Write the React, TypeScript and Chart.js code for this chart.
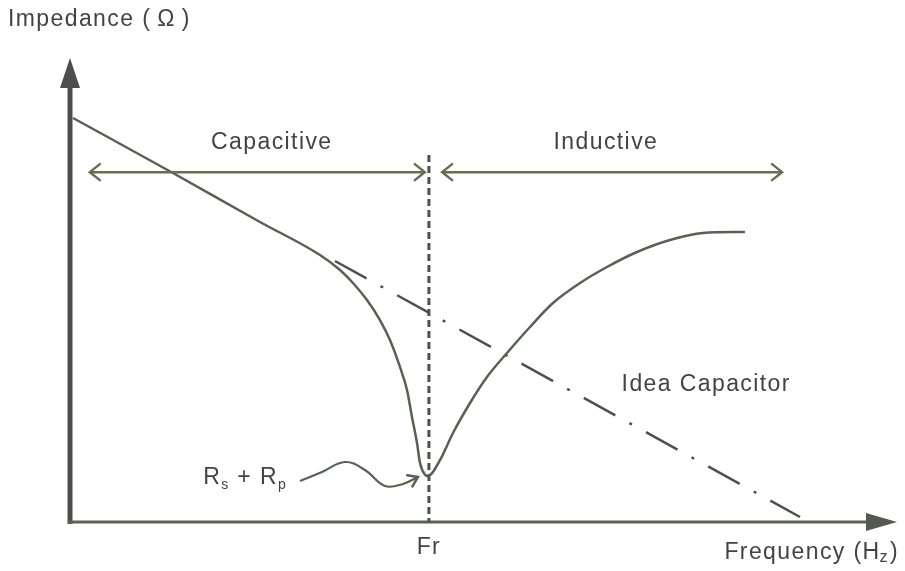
import { useEffect, useRef } from "react";
import { Chart, registerables } from "chart.js";

Chart.register(...registerables);

// ---- data (abstract units: frequency 0..100, impedance 0..100) ----
const frequency = [0.36, 12.45, 22.97, 30.23, 32.65, 34.22, 35.91, 37.48, 38.69, 39.9, 40.75, 41.35, 41.96, 42.32, 42.93, 43.29, 44.74, 46.31, 48.37, 50.42, 52.84, 55.62, 58.4, 61.67, 64.93, 68.56, 72.55, 76.54, 81.62];
const impedance = [87.07, 75.22, 64.66, 57.54, 54.31, 51.51, 47.84, 43.53, 39.22, 33.41, 28.45, 22.63, 17.03, 12.72, 10.2, 9.91, 13.36, 19.18, 25.65, 31.25, 36.42, 42.03, 47.2, 51.51, 54.96, 58.19, 60.78, 62.28, 62.5];

const idealFreq = [32.04, 88.27];
const idealImp = [56.25, 1.08];

const pointerFreq = [27.81, 30.47, 33.25, 35.67, 38.09, 40.27, 42.08];
const pointerImp = [8.84, 10.78, 12.93, 11.21, 7.76, 8.19, 9.7];

const resonanceFreq = 43.4;
const resonanceTop = 79.1;
const capacitiveSpan = [2.4, 42.9];
const inductiveSpan = [45.0, 86.1];
const spanLevel = 75.4;

const labels = {
  capacitive: "Capacitive",
  inductive: "Inductive",
  ideal: "Idea Capacitor",
  fr: "Fr",
};
const capacitiveLabelAt = [24.4, 81.7];
const inductiveLabelAt = [64.8, 81.7];
const idealLabelAt = [66.7, 29.5];
const rsrpLabelAt = [16.1, 9.5];

const LINE = "#596152";
const ARROW = "#66704f";
const TEXT = "#434343";
const AXIS = "#4d4d4d";
const FONT = "'Liberation Sans', Arial, sans-serif";
const FS = 23;

function toPts(xs: number[], ys: number[]) {
  return xs.map((x, i) => ({ x, y: ys[i] }));
}

const decor = {
  id: "decor",
  beforeDatasetsDraw(chart: any) {
    const { ctx } = chart;
    const xs = chart.scales.x;
    const ys = chart.scales.y;
    const x0 = xs.getPixelForValue(0);
    const y0 = ys.getPixelForValue(0);
    const xTop = xs.getPixelForValue(100);
    const yTop = ys.getPixelForValue(100);
    ctx.save();
    // y axis
    ctx.strokeStyle = AXIS;
    ctx.fillStyle = AXIS;
    ctx.lineWidth = 5;
    ctx.beginPath();
    ctx.moveTo(x0, y0 + 2);
    ctx.lineTo(x0, yTop + 20);
    ctx.stroke();
    ctx.beginPath();
    ctx.moveTo(x0, yTop);
    ctx.lineTo(x0 - 10, yTop + 30);
    ctx.lineTo(x0 + 10, yTop + 30);
    ctx.closePath();
    ctx.fill();
    // x axis
    ctx.strokeStyle = "#5b6350";
    ctx.lineWidth = 3;
    ctx.beginPath();
    ctx.moveTo(x0 - 2, y0);
    ctx.lineTo(xTop - 20, y0);
    ctx.stroke();
    ctx.fillStyle = "#555a50";
    ctx.beginPath();
    ctx.moveTo(xTop, y0);
    ctx.lineTo(xTop - 31, y0 - 9);
    ctx.lineTo(xTop - 31, y0 + 9);
    ctx.closePath();
    ctx.fill();
    // resonance dashed line
    const fx = xs.getPixelForValue(resonanceFreq);
    ctx.strokeStyle = "#505050";
    ctx.lineWidth = 3;
    ctx.setLineDash([7, 4]);
    ctx.beginPath();
    ctx.moveTo(fx, ys.getPixelForValue(resonanceTop));
    ctx.lineTo(fx, y0);
    ctx.stroke();
    ctx.setLineDash([]);
    ctx.restore();
  },
  afterDatasetsDraw(chart: any) {
    const { ctx } = chart;
    const xs = chart.scales.x;
    const ys = chart.scales.y;
    const px = (v: number) => xs.getPixelForValue(v);
    const py = (v: number) => ys.getPixelForValue(v);
    ctx.save();
    // span arrows
    const span = (a: number, b: number) => {
      const y = py(spanLevel);
      const xa = px(a);
      const xb = px(b);
      ctx.strokeStyle = ARROW;
      ctx.lineWidth = 2.5;
      ctx.lineCap = "round";
      ctx.beginPath();
      ctx.moveTo(xa, y);
      ctx.lineTo(xb, y);
      ctx.moveTo(xa + 10, y - 8);
      ctx.lineTo(xa, y);
      ctx.lineTo(xa + 10, y + 8);
      ctx.moveTo(xb - 10, y - 8);
      ctx.lineTo(xb, y);
      ctx.lineTo(xb - 10, y + 8);
      ctx.stroke();
    };
    span(capacitiveSpan[0], capacitiveSpan[1]);
    span(inductiveSpan[0], inductiveSpan[1]);
    // pointer arrowhead
    const n = pointerFreq.length;
    const tx = px(pointerFreq[n - 1]);
    const ty = py(pointerImp[n - 1]);
    const ang = Math.atan2(ty - py(pointerImp[n - 2]), tx - px(pointerFreq[n - 2]));
    ctx.strokeStyle = LINE;
    ctx.lineWidth = 2.5;
    ctx.lineCap = "round";
    ctx.beginPath();
    ctx.moveTo(tx - 11 * Math.cos(ang - 0.6), ty - 11 * Math.sin(ang - 0.6));
    ctx.lineTo(tx, ty);
    ctx.lineTo(tx - 11 * Math.cos(ang + 0.6), ty - 11 * Math.sin(ang + 0.6));
    ctx.stroke();

    // text
    ctx.fillStyle = TEXT;
    ctx.textBaseline = "middle";
    (ctx as any).letterSpacing = "1.4px";
    ctx.font = `${FS}px ${FONT}`;
    // Impedance (Ω)
    ctx.textAlign = "left";
    let ix = 8;
    const piece = (t: string, gap: number) => {
      ctx.fillText(t, ix, 20);
      ix += ctx.measureText(t).width + gap;
    };
    piece("Impedance (", 6);
    piece("Ω", 6);
    piece(")", 0);
    ctx.textAlign = "center";
    ctx.fillText(labels.capacitive, px(capacitiveLabelAt[0]), py(capacitiveLabelAt[1]));
    ctx.fillText(labels.inductive, px(inductiveLabelAt[0]), py(inductiveLabelAt[1]));
    ctx.fillText(labels.fr, px(resonanceFreq), py(0) + 26);
    ctx.textAlign = "left";
    ctx.fillText(labels.ideal, px(idealLabelAt[0]), py(idealLabelAt[1]));
    // Frequency (Hz) with subscript z
    const fy = py(0) + 31;
    const partA = "Frequency (H";
    const wA = ctx.measureText(partA).width;
    ctx.font = `16px ${FONT}`;
    const wZ = ctx.measureText("z").width;
    ctx.font = `${FS}px ${FONT}`;
    const wC = ctx.measureText(")").width;
    const startF = chart.width - 6 - (wA + wZ + wC);
    ctx.fillText(partA, startF, fy);
    ctx.font = `16px ${FONT}`;
    ctx.fillText("z", startF + wA - 1, fy + 5);
    ctx.font = `${FS}px ${FONT}`;
    ctx.fillText(")", startF + wA + wZ, fy);
    // Rs + Rp
    let rx = px(rsrpLabelAt[0]);
    const ry = py(rsrpLabelAt[1]);
    const seg = (t: string, size: number, dy: number) => {
      ctx.font = `${size}px ${FONT}`;
      ctx.fillText(t, rx, ry + dy);
      rx += ctx.measureText(t).width;
    };
    seg("R", FS, 0);
    seg("s", 14, 7);
    seg(" + R", FS, 0);
    seg("p", 14, 7);
    ctx.restore();
  },
};

export default function App() {
  const ref = useRef<HTMLCanvasElement | null>(null);
  useEffect(() => {
    if (!ref.current) return;
    const chart = new Chart(ref.current, {
      type: "line",
      data: {
        datasets: [
          {
            label: "Impedance",
            data: toPts(frequency, impedance),
            borderColor: LINE,
            borderWidth: 2.5,
            pointRadius: 0,
            cubicInterpolationMode: "monotone",
            fill: false,
            clip: false as any,
          },
          {
            label: "Idea Capacitor",
            data: toPts(idealFreq, idealImp),
            borderColor: "#4f4f4f",
            borderWidth: 2.5,
            borderDash: [36, 16, 3, 16],
            pointRadius: 0,
            fill: false,
            clip: false as any,
          },
          {
            label: "Rs + Rp",
            data: toPts(pointerFreq, pointerImp),
            borderColor: LINE,
            borderWidth: 2.2,
            pointRadius: 0,
            tension: 0.4,
            fill: false,
            clip: false as any,
          },
        ],
      },
      options: {
        animation: false,
        responsive: false,
        layout: { padding: { left: 70, top: 58, right: 8, bottom: 49 } },
        plugins: { legend: { display: false }, tooltip: { enabled: false } },
        scales: {
          x: { type: "linear", min: 0, max: 100, display: false },
          y: { type: "linear", min: 0, max: 100, display: false },
        },
      },
      plugins: [decor],
    });
    return () => chart.destroy();
  }, []);
  return (
    <div style={{ position: "fixed", left: 0, top: 0, width: 905, height: 571, background: "#fff" }}>
      <canvas ref={ref} width={905} height={571} />
    </div>
  );
}
